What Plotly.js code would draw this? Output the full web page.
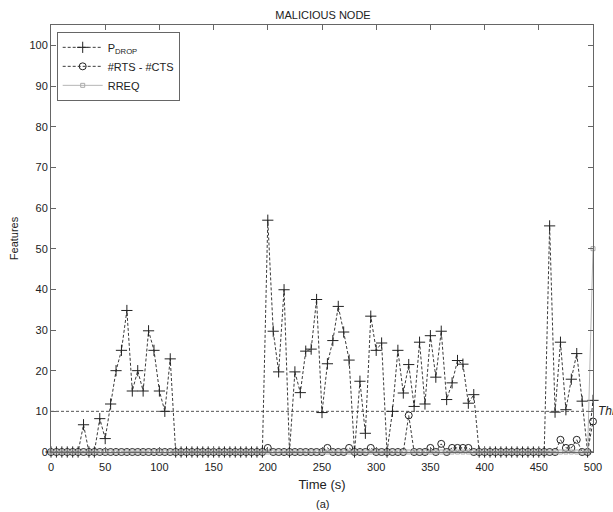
<!DOCTYPE html>
<html>
<head>
<meta charset="utf-8">
<script src="https://cdn.plot.ly/plotly-3.0.1.min.js"></script>
<style>
  html, body { margin: 0; padding: 0; background: #fff; }
  #chart { width: 613px; height: 512px; }
</style>
</head>
<body>
<div id="chart"></div>
<script>
// Time samples (s)
const timeS = [0,5,10,15,20,25,30,35,40,45,50,55,60,65,70,75,80,85,90,95,
  100,105,110,115,120,125,130,135,140,145,150,155,160,165,170,175,180,185,190,195,
  200,205,210,215,220,225,230,235,240,245,250,255,260,265,270,275,280,285,290,295,
  300,305,310,315,320,325,330,335,340,345,350,355,360,365,370,375,380,385,390,395,
  400,405,410,415,420,425,430,435,440,445,450,455,460,465,470,475,480,485,490,495,500];

// P_DROP series
const pDrop = [0,0,0,0,0,0,6.7,0,0,8.2,3.3,11.8,20,25,34.8,15,20,15,29.8,25,
  15,10,22.9,0,0,0,0,0,0,0,0,0,0,0,0,0,0,0,0,0,
  57,29.7,19.7,39.9,0,19.7,14.6,24.8,25.3,37.5,9.7,21.7,27.4,35.8,29.5,22.6,0,17.4,4.6,33.4,
  25,26.8,0,10,25,14.5,21.5,11.2,27,11.8,28.6,18.4,29.7,12.9,17,22.5,21.6,12,14.1,0,
  0,0,0,0,0,0,0,0,0,0,0,0,55.6,9.8,27,10.4,17.9,24.2,12.5,0,12.7];

// #RTS - #CTS series
const rtsCts = [0,0,0,0,0,0,0,0,0,0,0,0,0,0,0,0,0,0,0,0,
  0,0,0,0,0,0,0,0,0,0,0,0,0,0,0,0,0,0,0,0,
  1,0,0,0,0,0,0,0,0,0,0,1,0,0,0,1,0,0,0,1,
  0,0,0,0,0,0,9,0,0,0,1,0,2,0,1,1,1,1,0,0,
  0,0,0,0,0,0,0,0,0,0,0,0,0,0,3,1,1,3,0,0,7.5];

// RREQ series
const rreq = [0,0,0,0,0,0,0,0,0,0,0,0,0,0,0,0,0,0,0,0,
  0,0,0,0,0,0,0,0,0,0,0,0,0,0,0,0,0,0,0,0,
  0,0,0,0,0,0,0,0,0,0,0,0,0,0,0,0,0,0,0,0,
  0,0,0,0,0,0,0,0,0,0,0,0,0,0,0,0,0,0,0,0,
  0,0,0,0,0,0,0,0,0,0,0,0,0,0,0,0,0,0,0,0,50];

const threshold = 10;
const xTicks = [0,50,100,150,200,250,300,350,400,450,500];
const yTicks = [0,10,20,30,40,50,60,70,80,90,100];

const FONT = 'Liberation Sans, Arial, Helvetica, sans-serif';

const traces = [
  {
    x: timeS, y: pDrop, name: 'P<sub>DROP</sub>', type: 'scatter', mode: 'lines+markers',
    line: { color: '#3a3a3a', width: 1, dash: '3px,2px' },
    marker: { symbol: 'cross-thin', size: 8, line: { color: '#222', width: 1 } },
    cliponaxis: false
  },
  {
    x: timeS, y: rtsCts, name: '#RTS - #CTS', type: 'scatter', mode: 'lines+markers',
    line: { color: '#3a3a3a', width: 1, dash: '3px,2px' },
    marker: { symbol: 'circle-open', size: 7, color: '#222', line: { color: '#222', width: 1 } },
    cliponaxis: false
  },
  {
    x: timeS, y: rreq, name: 'RREQ', type: 'scatter', mode: 'lines+markers',
    line: { color: '#b5b5b5', width: 1 },
    marker: { symbol: 'square-open', size: 4, color: '#aaaaaa', line: { color: '#aaaaaa', width: 1 } },
    cliponaxis: false
  }
];

const axisCommon = {
  showline: true, linecolor: '#666', linewidth: 1, mirror: 'ticks',
  ticks: 'inside', ticklen: 5, tickcolor: '#666', tickwidth: 1,
  showgrid: false, zeroline: false,
  tickfont: { family: FONT, size: 11, color: '#222' }
};

const layout = {
  width: 613, height: 512,
  paper_bgcolor: '#fff', plot_bgcolor: '#fff',
  margin: { l: 51, r: 20, t: 25, b: 60 },
  font: { family: FONT, color: '#222' },
  title: {
    text: 'MALICIOUS NODE',
    font: { family: FONT, size: 11, color: '#222' },
    x: 0.527, xanchor: 'center', y: 0.97, yref: 'container', yanchor: 'middle'
  },
  xaxis: Object.assign({}, axisCommon, {
    range: [0, 500], tickvals: xTicks, ticktext: xTicks.map(String),
    ticklabelstandoff: 5,
    title: { text: 'Time (s)', font: { family: FONT, size: 13, color: '#222' }, standoff: 7 }
  }),
  yaxis: Object.assign({}, axisCommon, {
    range: [0, 105], tickvals: yTicks, ticktext: yTicks.map(String),
    title: { text: 'Features', font: { family: FONT, size: 11, color: '#222' }, standoff: 8 }
  }),
  showlegend: true,
  legend: {
    x: 0.0105, y: 0.984, xanchor: 'left', yanchor: 'top',
    bgcolor: '#fff', bordercolor: '#666', borderwidth: 1,
    font: { family: FONT, size: 11, color: '#222' },
    tracegroupgap: 0, itemwidth: 40
  },
  shapes: [
    { type: 'line', xref: 'x', yref: 'y', x0: 0, x1: 500, y0: threshold, y1: threshold,
      line: { color: '#555', width: 1, dash: '3px,2px' }, layer: 'below' }
  ],
  annotations: [
    { xref: 'x', yref: 'y', x: 500, y: threshold, text: '<i>Threshold</i>', showarrow: false,
      xanchor: 'left', yanchor: 'middle', xshift: 3,
      font: { family: FONT, size: 12, color: '#222' } },
    { xref: 'paper', yref: 'paper', x: 0.5, y: -0.104, yanchor: 'top', text: '(a)', showarrow: false,
      font: { family: FONT, size: 11, color: '#222' } }
  ]
};

Plotly.newPlot('chart', traces, layout, { displayModeBar: false, staticPlot: true });
</script>
</body>
</html>
